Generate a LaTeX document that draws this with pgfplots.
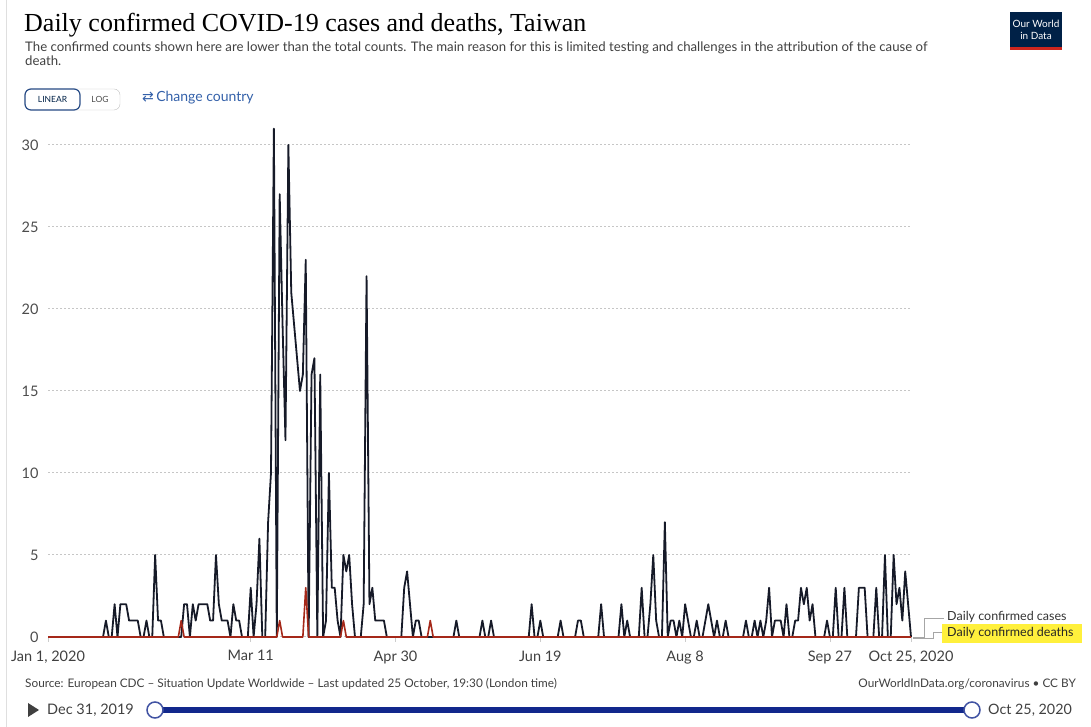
\documentclass[border=0pt]{standalone}
\usepackage{pgfplots}
\pgfplotsset{compat=1.18}
\usepackage{fontspec}
\setmainfont{Lato}
\newfontfamily\titlefont{Liberation Serif}
\newfontfamily\symfont{DejaVu Sans}

\definecolor{casecol}{RGB}{22,26,40}
\definecolor{deathcol}{RGB}{165,40,25}
\definecolor{txtgray}{RGB}{85,85,85}
\definecolor{owidblue}{RGB}{51,96,169}
\definecolor{owidnavy}{RGB}{0,33,71}
\definecolor{owidred}{RGB}{206,38,30}
\definecolor{sliderblue}{RGB}{18,40,140}
\definecolor{hilite}{RGB}{255,240,60}

\begin{document}
\begin{tikzpicture}[x=1bp,y=1bp]
\useasboundingbox (0,0) rectangle (1091,727);
\draw[gray!25, line width=1bp] (6,0) -- (6,727);

% header
\node[anchor=base west, inner sep=0] at (24,695)
  {\titlefont\fontsize{26bp}{29bp}\selectfont Daily confirmed COVID-19 cases and deaths, Taiwan};
\node[anchor=base west, inner sep=0, text=black!75] at (25,675)
  {\fontsize{13.2bp}{15bp}\selectfont The confirmed counts shown here are lower than the total counts. The main reason for this is limited testing and challenges in the attribution of the cause of};
\node[anchor=base west, inner sep=0, text=black!75] at (25,661)
  {\fontsize{13.2bp}{15bp}\selectfont death.};

% linear / log buttons
\draw[gray!50, rounded corners=6bp] (25,617) rectangle (120,638);
\draw[owidblue!80!black, line width=1.2bp, rounded corners=6bp] (25,617) rectangle (80,638);
\node[text=owidnavy] at (52.5,627.5) {\fontsize{8.5bp}{9bp}\selectfont LINEAR};
\node[text=black!70] at (100,627.5) {\fontsize{8.5bp}{9bp}\selectfont LOG};
\node[anchor=west, inner sep=0, text=owidblue] at (142,629)
  {\fontsize{14bp}{16bp}\selectfont{\symfont ⇄}\,Change country};

% logo
\fill[owidnavy] (1010,677) rectangle (1062,715);
\fill[owidred] (1010,677) rectangle (1062,680);
\node[text=white, align=center, inner sep=0] at (1036,697)
  {\fontsize{10bp}{11bp}\selectfont Our World\\in Data};

\begin{axis}[
  at={(48bp,90bp)}, anchor=south west,
  scale only axis, width=863bp, height=508.4bp,
  xmin=0, xmax=298, ymin=0, ymax=31,
  clip=false,
  axis line style={draw=none},
  ytick={0,5,...,30},
  xtick={0,70,120,170,220,270,298},
  xticklabels={{Jan 1, 2020},{Mar 11},{Apr 30},{Jun 19},{Aug 8},{Sep 27},{Oct 25, 2020}},
  xtick pos=bottom, ytick pos=left,
  ymajorgrids,
  grid style={gray!45, line width=1bp, dash pattern=on 2bp off 2bp},
  tick align=outside,
  major tick length=5bp,
  xtick style={draw=gray!40, line width=0.8bp},
  ytick style={draw=none},
  /pgf/number format/assume math mode=true,
  yticklabel style={font=\fontsize{14.5bp}{16bp}\selectfont, text=black!70, xshift=-1bp},
  xticklabel style={font=\fontsize{14.5bp}{16bp}\selectfont, text=black!75, yshift=-5bp},
]
\addplot[casecol, line width=1.8bp, line join=round] coordinates {
(0,0) (1,0) (2,0) (3,0) (4,0) (5,0) (6,0) (7,0) (8,0) (9,0)
(10,0) (11,0) (12,0) (13,0) (14,0) (15,0) (16,0) (17,0) (18,0) (19,0)
(20,1) (21,0) (22,0) (23,2) (24,0) (25,2) (26,2) (27,2) (28,1) (29,1)
(30,1) (31,1) (32,0) (33,0) (34,1) (35,0) (36,0) (37,5) (38,1) (39,1)
(40,0) (41,0) (42,0) (43,0) (44,0) (45,0) (46,0) (47,2) (48,2) (49,0)
(50,2) (51,1) (52,2) (53,2) (54,2) (55,2) (56,1) (57,1) (58,5) (59,2)
(60,1) (61,1) (62,1) (63,0) (64,2) (65,1) (66,1) (67,0) (68,0) (69,0)
(70,3) (71,0) (72,2) (73,6) (74,0) (75,0) (76,7) (77,10) (78,31) (79,0)
(80,27) (81,19) (82,12) (83,30) (84,21) (85,19) (86,17) (87,15) (88,16) (89,23)
(90,0) (91,16) (92,17) (93,0) (94,16) (95,0) (96,1) (97,10) (98,3) (99,3)
(100,1) (101,0) (102,5) (103,4) (104,5) (105,2) (106,0) (107,0) (108,0) (109,2)
(110,22) (111,2) (112,3) (113,1) (114,1) (115,1) (116,1) (117,0) (118,0) (119,0)
(120,0) (121,0) (122,0) (123,3) (124,4) (125,2) (126,0) (127,1) (128,1) (129,0)
(130,0) (131,0) (132,0) (133,0) (134,0) (135,0) (136,0) (137,0) (138,0) (139,0)
(140,0) (141,1) (142,0) (143,0) (144,0) (145,0) (146,0) (147,0) (148,0) (149,0)
(150,1) (151,0) (152,0) (153,1) (154,0) (155,0) (156,0) (157,0) (158,0) (159,0)
(160,0) (161,0) (162,0) (163,0) (164,0) (165,0) (166,0) (167,2) (168,0) (169,0)
(170,1) (171,0) (172,0) (173,0) (174,0) (175,0) (176,0) (177,1) (178,0) (179,0)
(180,0) (181,0) (182,0) (183,1) (184,1) (185,0) (186,0) (187,0) (188,0) (189,0)
(190,0) (191,2) (192,0) (193,0) (194,0) (195,0) (196,0) (197,0) (198,2) (199,0)
(200,1) (201,0) (202,0) (203,0) (204,0) (205,3) (206,0) (207,0) (208,2) (209,5)
(210,1) (211,0) (212,0) (213,7) (214,0) (215,1) (216,1) (217,0) (218,1) (219,0)
(220,2) (221,1) (222,0) (223,0) (224,1) (225,0) (226,0) (227,1) (228,2) (229,1)
(230,0) (231,1) (232,0) (233,0) (234,1) (235,0) (236,0) (237,0) (238,0) (239,0)
(240,0) (241,1) (242,0) (243,0) (244,1) (245,0) (246,1) (247,0) (248,1) (249,3)
(250,0) (251,1) (252,1) (253,1) (254,0) (255,2) (256,0) (257,0) (258,1) (259,1)
(260,3) (261,2) (262,3) (263,1) (264,2) (265,0) (266,0) (267,0) (268,0) (269,1)
(270,0) (271,0) (272,3) (273,0) (274,0) (275,3) (276,0) (277,0) (278,0) (279,0)
(280,3) (281,3) (282,3) (283,0) (284,0) (285,0) (286,3) (287,0) (288,0) (289,5)
(290,0) (291,0) (292,5) (293,2) (294,3) (295,1) (296,4) (297,2) (298,0)
};
\addplot[deathcol, line width=1.6bp, line join=round] coordinates {
(0,0) (45,0) (46,1) (47,0) (79,0) (80,1) (81,0) (88,0) (89,3) (90,0)
(101,0) (102,1) (103,0) (131,0) (132,1) (133,0) (298,0)
};
\end{axis}

% legend labels
\draw[gray!70, line width=0.8bp] (913,90) -- (924,90) -- (924,109) -- (944,109);
\draw[gray!70, line width=0.8bp] (913,89) -- (933,89) -- (933,95) -- (942,95);
\fill[hilite] (942,84) rectangle (1082,103);
\node[anchor=west, inner sep=0, text=black!80] at (947,110)
  {\fontsize{12.5bp}{14bp}\selectfont Daily confirmed cases};
\node[anchor=west, inner sep=0, text=black!85] at (947,94)
  {\fontsize{12.5bp}{14bp}\selectfont Daily confirmed deaths};

% footer
\node[anchor=base west, inner sep=0, text=black!75] at (25,39)
  {\fontsize{11.8bp}{13bp}\selectfont Source: European CDC – Situation Update Worldwide – Last updated 25 October, 19:30 (London time)};
\node[anchor=base east, inner sep=0, text=black!75] at (1076,39)
  {\fontsize{11.8bp}{13bp}\selectfont OurWorldInData.org/coronavirus • CC BY};

% timeline
\fill[black!75] (28,24) -- (28,10) -- (39,17) -- cycle;
\node[anchor=west, inner sep=0, text=black!75] at (47,17)
  {\fontsize{14.5bp}{16bp}\selectfont Dec 31, 2019};
\draw[sliderblue, line width=6bp] (155,17) -- (972,17);
\filldraw[fill=white, draw=sliderblue!80, line width=1.5bp] (155,17) circle (8);
\filldraw[fill=white, draw=sliderblue!80, line width=1.5bp] (972,17) circle (8);
\node[anchor=west, inner sep=0, text=black!75] at (988,17)
  {\fontsize{14.3bp}{16bp}\selectfont Oct 25, 2020};
\end{tikzpicture}
\end{document}
